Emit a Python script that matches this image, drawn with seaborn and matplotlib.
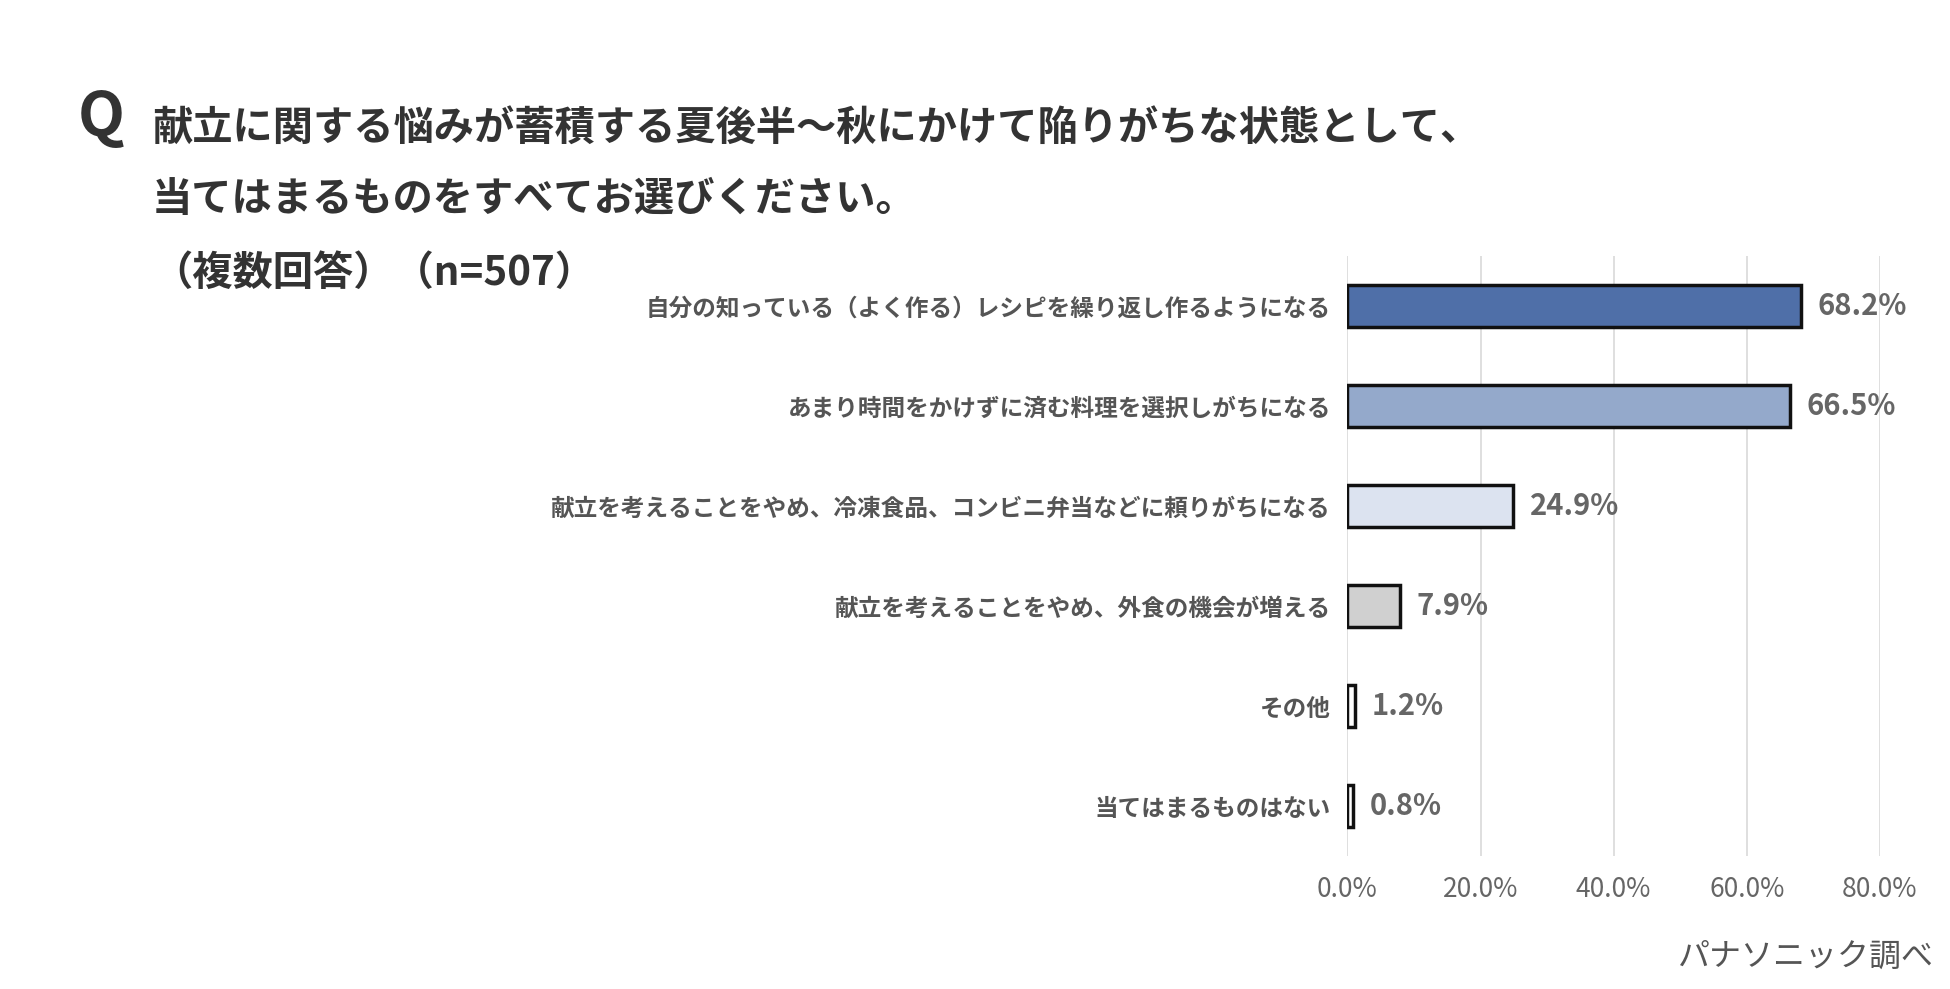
import matplotlib
matplotlib.use("Agg")
import matplotlib.pyplot as plt
import pandas as pd
import seaborn as sns

categories = [
    "自分の知っている（よく作る）レシピを繰り返し作るようになる",
    "あまり時間をかけずに済む料理を選択しがちになる",
    "献立を考えることをやめ、冷凍食品、コンビニ弁当などに頼りがちになる",
    "献立を考えることをやめ、外食の機会が増える",
    "その他",
    "当てはまるものはない",
]
values = [68.2, 66.5, 24.9, 7.9, 1.2, 0.8]
colors = ["#4F6FA8", "#94A9CB", "#DCE3F0", "#D0D0D0", "#FFFFFF", "#FFFFFF"]
xticks = [0, 20, 40, 60, 80]

df = pd.DataFrame({"cat": categories, "val": values})

sns.set_theme(style="white")
plt.rcParams["font.family"] = ["Noto Sans CJK JP", "DejaVu Sans"]

fig = plt.figure(figsize=(19.5, 9.89), dpi=100)
ax = fig.add_axes([0.691, 0.134, 0.273, 0.607])
sns.barplot(data=df, y="cat", x="val", hue="cat", palette=colors, legend=False,
            orient="h", width=0.42, saturation=1, edgecolor="#111111", linewidth=2.5,
            ax=ax, zorder=3)

ax.set_xlim(0, 80)
ax.set_xticks(xticks)
ax.set_xticklabels([f"{t:.1f}%" for t in xticks], fontsize=19, color="#666666")
ax.grid(axis="x", color="#D9D9D9", linewidth=1.2, zorder=0)
ax.set_xlabel("")
ax.set_ylabel("")
ax.tick_params(axis="y", labelsize=17, labelcolor="#555555", length=0, pad=12)
ax.tick_params(axis="x", length=0, pad=14)
for lab in ax.get_yticklabels():
    lab.set_fontweight("bold")
for s in ax.spines.values():
    s.set_visible(False)

for i, v in enumerate(values):
    ax.text(v + 2.5, i, f"{v}%", va="center", ha="left", fontsize=21,
            fontweight="bold", color="#666666")

fig.text(0.04, 0.88, "Q", fontsize=44, fontweight="bold", color="#333333", va="center")
fig.text(0.078, 0.87, "献立に関する悩みが蓄積する夏後半〜秋にかけて陥りがちな状態として、",
         fontsize=29, fontweight="bold", color="#333333", va="center")
fig.text(0.078, 0.798, "当てはまるものをすべてお選びください。",
         fontsize=29, fontweight="bold", color="#333333", va="center")
fig.text(0.078, 0.724, "（複数回答）（n=507）",
         fontsize=29, fontweight="bold", color="#333333", va="center")
fig.text(0.992, 0.033, "パナソニック調べ", fontsize=23, color="#555555", ha="right", va="center")

fig.savefig("out.png", dpi=100, facecolor="white")
